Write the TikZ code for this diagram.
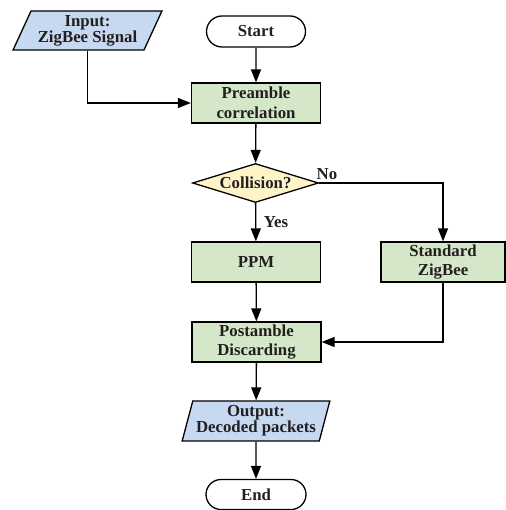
\documentclass[tikz,border=0pt]{standalone}
\usepackage{fontspec}
\setmainfont{Liberation Serif}
\usetikzlibrary{shapes.geometric,shapes.misc,arrows.meta}
\definecolor{boxgreen}{RGB}{212,231,201}
\definecolor{boxblue}{RGB}{198,217,240}
\definecolor{boxyellow}{RGB}{255,243,200}
\definecolor{txt}{RGB}{35,31,32}
\begin{document}
\begin{tikzpicture}[x=1pt,y=-1pt,
  every node/.style={font=\fontsize{16.8}{19.5}\selectfont\bfseries, text=txt, align=center},
  proc/.style={draw, line width=1.3pt, fill=boxgreen, rectangle, minimum width=129pt, minimum height=40pt, inner sep=0pt},
  io/.style={draw, line width=1.3pt, fill=boxblue, trapezium, trapezium stretches=true, inner sep=0pt, font=\fontsize{16.8}{13}\selectfont\bfseries},
  term/.style={draw, line width=1.3pt, rounded rectangle, minimum width=99pt, minimum height=31pt, inner sep=0pt},
  decis/.style={draw, line width=1.3pt, fill=boxyellow, diamond, aspect=3.2, inner sep=0pt, minimum width=126pt, minimum height=39pt},
  lbl/.style={inner sep=0pt},
  arr/.style={draw, line width=1.3pt, -{Triangle[length=13pt,width=10pt]}}]
\useasboundingbox (0,0) rectangle (505,510);
\node[io, trapezium left angle=63, trapezium right angle=117, minimum width=149pt, minimum height=39pt] (inp) at (87.5,30.5) {Input:\\ZigBee Signal};
\node[term] (start) at (256,31.5) {Start};
\node[proc] (pre) at (256,103) {Preamble\\correlation};
\node[decis] (dia) at (255.5,183) {Collision?};
\node[proc] (ppm) at (256,262) {PPM};
\node[proc, minimum width=124pt] (std) at (443,262) {Standard\\ZigBee};
\node[proc] (post) at (256.5,342) {Postamble\\Discarding};
\node[io, trapezium left angle=72, trapezium right angle=108, minimum width=148pt, minimum height=40pt] (out) at (256,421) {Output:\\Decoded packets};
\node[term, minimum width=100pt, minimum height=30pt] (end) at (256,494.5) {End};
\node[lbl] (no) at (327,174) {No};
\node[lbl] (yes) at (276,222) {Yes};
\draw[arr] (start) -- (pre);
\draw[arr] (inp.south) |- (pre.west);
\draw[arr] (pre) -- (dia);
\draw[arr] (dia) -- (ppm);
\draw[arr] (dia.east) -| (std.north);
\draw[arr] (ppm) -- (post);
\draw[arr] (std.south) |- (post.east);
\draw[arr] (post) -- (out);
\draw[arr] (out) -- (end);
\end{tikzpicture}
\end{document}
